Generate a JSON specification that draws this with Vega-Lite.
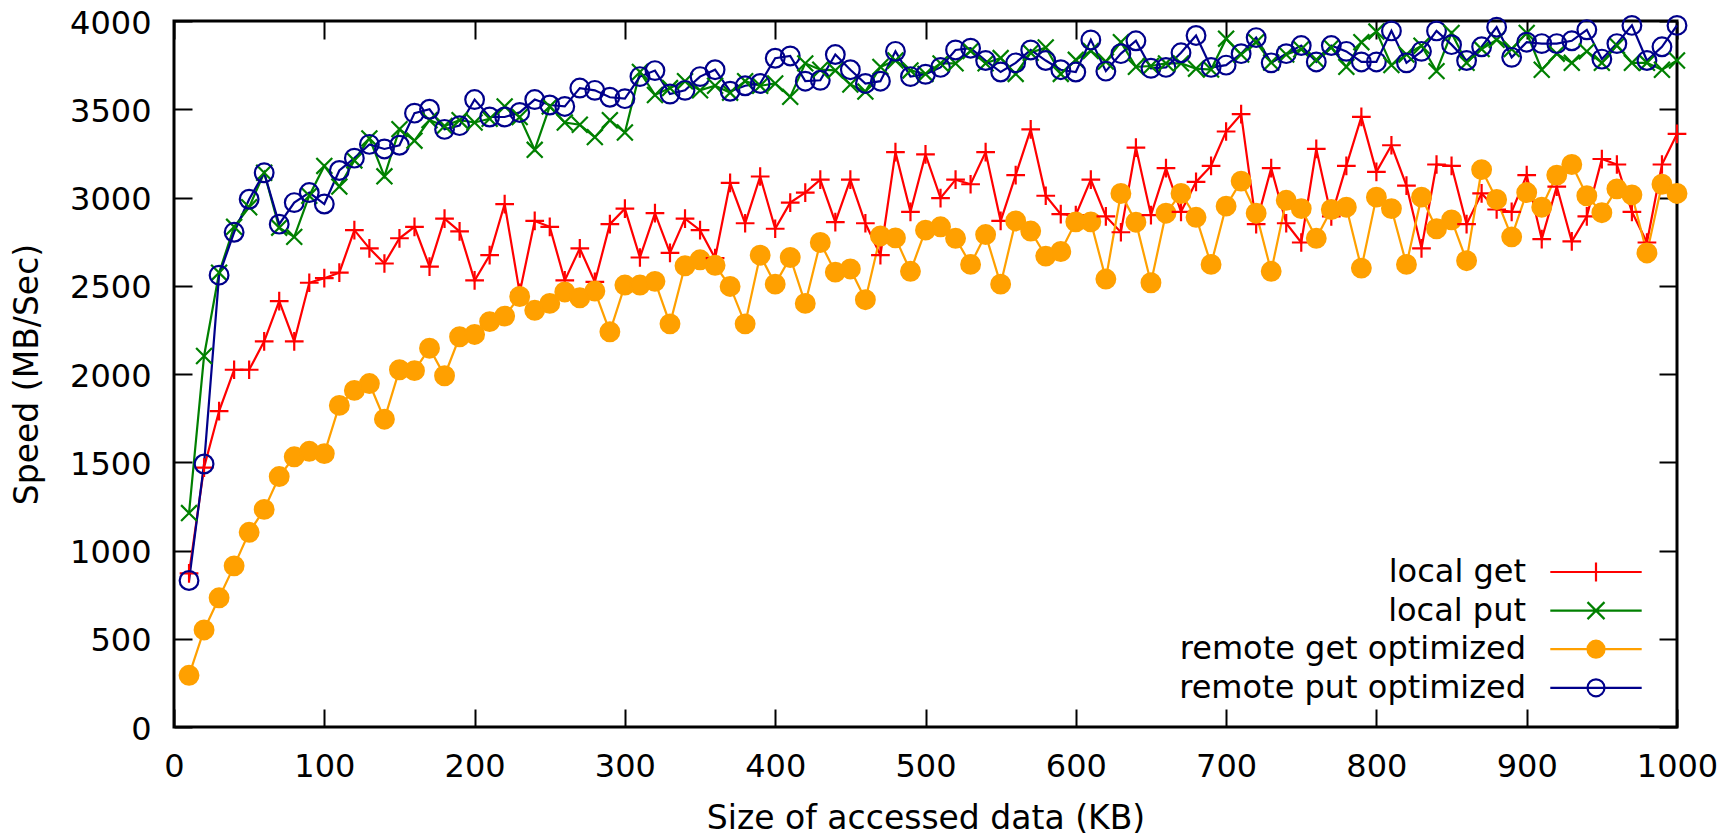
{
  "$schema": "https://vega.github.io/schema/vega-lite/v6.json",
  "width": 1503,
  "height": 706,
  "autosize": {"type": "none"},
  "padding": {"left": 174, "top": 21, "right": 56, "bottom": 112},
  "background": "white",
  "config": {
    "font": "DejaVu Sans",
    "view": {"stroke": "black", "strokeWidth": 3},
    "axis": {
      "domain": false, "grid": false, "zindex": 1, "labelFlush": false, "ticks": true,
      "labelFontSize": 32, "titleFontSize": 33, "titleFontWeight": "normal",
      "labelColor": "black", "titleColor": "black", "tickColor": "black",
      "tickWidth": 2, "tickSize": 18, "offset": -18, "labelFont": "DejaVu Sans", "titleFont": "DejaVu Sans",
      "format": "d"
    }
  },
  "data": {"values": [
    {"size": 10, "local get": 870, "local put": 1212, "remote get optimized": 293, "remote put optimized": 830},
    {"size": 20, "local get": 1470, "local put": 2102, "remote get optimized": 550, "remote put optimized": 1490},
    {"size": 30, "local get": 1790, "local put": 2574, "remote get optimized": 732, "remote put optimized": 2560},
    {"size": 40, "local get": 2024, "local put": 2834, "remote get optimized": 913, "remote put optimized": 2803},
    {"size": 50, "local get": 2024, "local put": 2945, "remote get optimized": 1103, "remote put optimized": 2990},
    {"size": 60, "local get": 2185, "local put": 3140, "remote get optimized": 1233, "remote put optimized": 3140},
    {"size": 70, "local get": 2413, "local put": 2829, "remote get optimized": 1419, "remote put optimized": 2849},
    {"size": 80, "local get": 2185, "local put": 2777, "remote get optimized": 1531, "remote put optimized": 2971},
    {"size": 90, "local get": 2517, "local put": 3010, "remote get optimized": 1562, "remote put optimized": 3028},
    {"size": 100, "local get": 2543, "local put": 3179, "remote get optimized": 1549, "remote put optimized": 2963},
    {"size": 110, "local get": 2574, "local put": 3062, "remote get optimized": 1822, "remote put optimized": 3153},
    {"size": 120, "local get": 2815, "local put": 3210, "remote get optimized": 1907, "remote put optimized": 3223},
    {"size": 130, "local get": 2712, "local put": 3335, "remote get optimized": 1946, "remote put optimized": 3301},
    {"size": 140, "local get": 2626, "local put": 3120, "remote get optimized": 1744, "remote put optimized": 3275},
    {"size": 150, "local get": 2769, "local put": 3387, "remote get optimized": 2024, "remote put optimized": 3296},
    {"size": 160, "local get": 2834, "local put": 3322, "remote get optimized": 2019, "remote put optimized": 3478},
    {"size": 170, "local get": 2608, "local put": 3438, "remote get optimized": 2146, "remote put optimized": 3500},
    {"size": 180, "local get": 2880, "local put": 3405, "remote get optimized": 1990, "remote put optimized": 3386},
    {"size": 190, "local get": 2808, "local put": 3438, "remote get optimized": 2211, "remote put optimized": 3407},
    {"size": 200, "local get": 2530, "local put": 3425, "remote get optimized": 2224, "remote put optimized": 3555},
    {"size": 210, "local get": 2673, "local put": 3446, "remote get optimized": 2297, "remote put optimized": 3456},
    {"size": 220, "local get": 2963, "local put": 3516, "remote get optimized": 2328, "remote put optimized": 3456},
    {"size": 230, "local get": 2460, "local put": 3456, "remote get optimized": 2439, "remote put optimized": 3482},
    {"size": 240, "local get": 2867, "local put": 3270, "remote get optimized": 2361, "remote put optimized": 3555},
    {"size": 250, "local get": 2834, "local put": 3516, "remote get optimized": 2400, "remote put optimized": 3524},
    {"size": 260, "local get": 2530, "local put": 3425, "remote get optimized": 2465, "remote put optimized": 3516},
    {"size": 270, "local get": 2712, "local put": 3412, "remote get optimized": 2432, "remote put optimized": 3620},
    {"size": 280, "local get": 2522, "local put": 3342, "remote get optimized": 2470, "remote put optimized": 3607},
    {"size": 290, "local get": 2849, "local put": 3438, "remote get optimized": 2239, "remote put optimized": 3568},
    {"size": 300, "local get": 2937, "local put": 3368, "remote get optimized": 2504, "remote put optimized": 3560},
    {"size": 310, "local get": 2660, "local put": 3711, "remote get optimized": 2504, "remote put optimized": 3685},
    {"size": 320, "local get": 2911, "local put": 3581, "remote get optimized": 2525, "remote put optimized": 3719},
    {"size": 330, "local get": 2686, "local put": 3620, "remote get optimized": 2284, "remote put optimized": 3586},
    {"size": 340, "local get": 2880, "local put": 3659, "remote get optimized": 2613, "remote put optimized": 3607},
    {"size": 350, "local get": 2815, "local put": 3607, "remote get optimized": 2647, "remote put optimized": 3685},
    {"size": 360, "local get": 2656, "local put": 3633, "remote get optimized": 2616, "remote put optimized": 3724},
    {"size": 370, "local get": 3083, "local put": 3594, "remote get optimized": 2496, "remote put optimized": 3602},
    {"size": 380, "local get": 2854, "local put": 3659, "remote get optimized": 2284, "remote put optimized": 3633},
    {"size": 390, "local get": 3119, "local put": 3633, "remote get optimized": 2673, "remote put optimized": 3646},
    {"size": 400, "local get": 2823, "local put": 3646, "remote get optimized": 2509, "remote put optimized": 3789},
    {"size": 410, "local get": 2971, "local put": 3570, "remote get optimized": 2660, "remote put optimized": 3802},
    {"size": 420, "local get": 3028, "local put": 3760, "remote get optimized": 2400, "remote put optimized": 3659},
    {"size": 430, "local get": 3101, "local put": 3724, "remote get optimized": 2745, "remote put optimized": 3664},
    {"size": 440, "local get": 2860, "local put": 3720, "remote get optimized": 2577, "remote put optimized": 3810},
    {"size": 450, "local get": 3101, "local put": 3640, "remote get optimized": 2595, "remote put optimized": 3724},
    {"size": 460, "local get": 2854, "local put": 3600, "remote get optimized": 2421, "remote put optimized": 3646},
    {"size": 470, "local get": 2673, "local put": 3740, "remote get optimized": 2782, "remote put optimized": 3659},
    {"size": 480, "local get": 3257, "local put": 3776, "remote get optimized": 2771, "remote put optimized": 3828},
    {"size": 490, "local get": 2919, "local put": 3720, "remote get optimized": 2582, "remote put optimized": 3685},
    {"size": 500, "local get": 3244, "local put": 3700, "remote get optimized": 2815, "remote put optimized": 3698},
    {"size": 510, "local get": 2997, "local put": 3760, "remote get optimized": 2834, "remote put optimized": 3737},
    {"size": 520, "local get": 3101, "local put": 3760, "remote get optimized": 2769, "remote put optimized": 3836},
    {"size": 530, "local get": 3075, "local put": 3830, "remote get optimized": 2621, "remote put optimized": 3846},
    {"size": 540, "local get": 3257, "local put": 3760, "remote get optimized": 2790, "remote put optimized": 3776},
    {"size": 550, "local get": 2867, "local put": 3790, "remote get optimized": 2509, "remote put optimized": 3711},
    {"size": 560, "local get": 3127, "local put": 3700, "remote get optimized": 2867, "remote put optimized": 3763},
    {"size": 570, "local get": 3386, "local put": 3820, "remote get optimized": 2810, "remote put optimized": 3836},
    {"size": 580, "local get": 3010, "local put": 3850, "remote get optimized": 2668, "remote put optimized": 3776},
    {"size": 590, "local get": 2906, "local put": 3700, "remote get optimized": 2694, "remote put optimized": 3724},
    {"size": 600, "local get": 2900, "local put": 3780, "remote get optimized": 2862, "remote put optimized": 3711},
    {"size": 610, "local get": 3101, "local put": 3830, "remote get optimized": 2862, "remote put optimized": 3893},
    {"size": 620, "local get": 2893, "local put": 3770, "remote get optimized": 2538, "remote put optimized": 3716},
    {"size": 630, "local get": 2803, "local put": 3880, "remote get optimized": 3023, "remote put optimized": 3815},
    {"size": 640, "local get": 3283, "local put": 3740, "remote get optimized": 2860, "remote put optimized": 3888},
    {"size": 650, "local get": 2900, "local put": 3745, "remote get optimized": 2517, "remote put optimized": 3732},
    {"size": 660, "local get": 3166, "local put": 3760, "remote get optimized": 2911, "remote put optimized": 3737},
    {"size": 670, "local get": 2919, "local put": 3760, "remote get optimized": 3023, "remote put optimized": 3820},
    {"size": 680, "local get": 3088, "local put": 3730, "remote get optimized": 2888, "remote put optimized": 3918},
    {"size": 690, "local get": 3179, "local put": 3725, "remote get optimized": 2621, "remote put optimized": 3737},
    {"size": 700, "local get": 3374, "local put": 3900, "remote get optimized": 2951, "remote put optimized": 3750},
    {"size": 710, "local get": 3472, "local put": 3810, "remote get optimized": 3093, "remote put optimized": 3815},
    {"size": 720, "local get": 2849, "local put": 3880, "remote get optimized": 2911, "remote put optimized": 3906},
    {"size": 730, "local get": 3166, "local put": 3765, "remote get optimized": 2582, "remote put optimized": 3763},
    {"size": 740, "local get": 2854, "local put": 3810, "remote get optimized": 2984, "remote put optimized": 3815},
    {"size": 750, "local get": 2745, "local put": 3840, "remote get optimized": 2937, "remote put optimized": 3861},
    {"size": 760, "local get": 3275, "local put": 3780, "remote get optimized": 2769, "remote put optimized": 3768},
    {"size": 770, "local get": 2893, "local put": 3850, "remote get optimized": 2932, "remote put optimized": 3861},
    {"size": 780, "local get": 3179, "local put": 3740, "remote get optimized": 2945, "remote put optimized": 3828},
    {"size": 790, "local get": 3457, "local put": 3880, "remote get optimized": 2600, "remote put optimized": 3768},
    {"size": 800, "local get": 3145, "local put": 3940, "remote get optimized": 3002, "remote put optimized": 3768},
    {"size": 810, "local get": 3296, "local put": 3750, "remote get optimized": 2937, "remote put optimized": 3944},
    {"size": 820, "local get": 3067, "local put": 3810, "remote get optimized": 2621, "remote put optimized": 3763},
    {"size": 830, "local get": 2712, "local put": 3860, "remote get optimized": 3002, "remote put optimized": 3828},
    {"size": 840, "local get": 3187, "local put": 3716, "remote get optimized": 2823, "remote put optimized": 3944},
    {"size": 850, "local get": 3179, "local put": 3932, "remote get optimized": 2873, "remote put optimized": 3866},
    {"size": 860, "local get": 2849, "local put": 3763, "remote get optimized": 2642, "remote put optimized": 3776},
    {"size": 870, "local get": 3023, "local put": 3841, "remote get optimized": 3158, "remote put optimized": 3854},
    {"size": 880, "local get": 2932, "local put": 3893, "remote get optimized": 2989, "remote put optimized": 3965},
    {"size": 890, "local get": 2919, "local put": 3841, "remote get optimized": 2777, "remote put optimized": 3794},
    {"size": 900, "local get": 3127, "local put": 3932, "remote get optimized": 3028, "remote put optimized": 3880},
    {"size": 910, "local get": 2764, "local put": 3724, "remote get optimized": 2945, "remote put optimized": 3872},
    {"size": 920, "local get": 3062, "local put": 3815, "remote get optimized": 3127, "remote put optimized": 3872},
    {"size": 930, "local get": 2751, "local put": 3763, "remote get optimized": 3187, "remote put optimized": 3888},
    {"size": 940, "local get": 2893, "local put": 3828, "remote get optimized": 3010, "remote put optimized": 3950},
    {"size": 950, "local get": 3218, "local put": 3763, "remote get optimized": 2914, "remote put optimized": 3784},
    {"size": 960, "local get": 3187, "local put": 3861, "remote get optimized": 3049, "remote put optimized": 3872},
    {"size": 970, "local get": 2919, "local put": 3763, "remote get optimized": 3015, "remote put optimized": 3975},
    {"size": 980, "local get": 2745, "local put": 3763, "remote get optimized": 2686, "remote put optimized": 3776},
    {"size": 990, "local get": 3187, "local put": 3724, "remote get optimized": 3075, "remote put optimized": 3854},
    {"size": 1000, "local get": 3360, "local put": 3776, "remote get optimized": 3023, "remote put optimized": 3975}
  ]},
  "transform": [
    {"fold": ["local get", "local put", "remote get optimized", "remote put optimized"], "as": ["series", "speed"]}
  ],
  "resolve": {
    "axis": {"x": "independent", "y": "independent"},
    "scale": {"color": "independent", "shape": "independent", "fill": "independent"},
    "legend": {"color": "independent", "shape": "independent", "fill": "independent"}
  },
  "layer": [
    {
      "mark": {"type": "line", "strokeWidth": 2.2},
      "encoding": {
        "x": {"field": "size", "type": "quantitative", "scale": {"domain": [0, 1000], "nice": false, "zero": false},
              "axis": {"orient": "bottom", "values": [0,100,200,300,400,500,600,700,800,900,1000], "title": "Size of accessed data (KB)", "labelBaseline": "top", "labelPadding": 24, "titlePadding": 20}},
        "y": {"field": "speed", "type": "quantitative", "scale": {"domain": [0, 4000], "nice": false, "zero": false},
              "axis": {"orient": "left", "values": [0,500,1000,1500,2000,2500,3000,3500,4000], "title": "Speed (MB/Sec)", "labelBaseline": "middle", "labelAlign": "right", "labelPadding": 23, "labelOffset": 2, "titlePadding": 25}},
        "color": {"field": "series", "type": "nominal",
                  "scale": {"domain": ["local get", "local put", "remote get optimized", "remote put optimized"], "range": ["#ff0000", "#008000", "#ffa000", "#00008b"]},
                  "legend": null}
      }
    },
    {
      "mark": {"type": "point", "filled": false, "size": 350, "strokeWidth": 2.2, "opacity": 1},
      "encoding": {
        "x": {"field": "size", "type": "quantitative", "scale": {"domain": [0, 1000], "nice": false, "zero": false}, "axis": null},
        "y": {"field": "speed", "type": "quantitative", "scale": {"domain": [0, 4000], "nice": false, "zero": false}, "axis": null},
        "color": {"field": "series", "type": "nominal",
                  "scale": {"domain": ["local get", "local put", "remote get optimized", "remote put optimized"], "range": ["#ff0000", "#008000", "#ffa000", "#00008b"]},
                  "legend": null},
        "shape": {"field": "series", "type": "nominal",
                  "scale": {"domain": ["local get", "local put", "remote get optimized", "remote put optimized"], "range": ["M-1,0H1M0,-1V1", "M-0.85,-0.85L0.85,0.85M-0.85,0.85L0.85,-0.85", "circle", "circle"]},
                  "legend": null},
        "fill": {"condition": {"test": "datum.series === 'remote get optimized'", "value": "#ffa000"}, "value": "transparent"}
      }
    },
    {
      "mark": {"type": "line", "opacity": 0},
      "encoding": {
        "x": {"field": "size", "type": "quantitative", "scale": {"domain": [0, 1000], "nice": false, "zero": false},
              "axis": {"orient": "top", "values": [0,100,200,300,400,500,600,700,800,900,1000], "labels": false, "title": null}},
        "y": {"field": "speed", "type": "quantitative", "scale": {"domain": [0, 4000], "nice": false, "zero": false},
              "axis": {"orient": "right", "values": [0,500,1000,1500,2000,2500,3000,3500,4000], "labels": false, "title": null}},
        "detail": {"field": "series"}
      }
    },
    {
      "transform": [{"filter": "datum.size < 0"}],
      "mark": {"type": "point", "filled": false, "opacity": 1, "strokeWidth": 2.2},
      "encoding": {
        "color": {"field": "series", "type": "nominal",
                  "scale": {"domain": ["local get", "local put", "remote get optimized", "remote put optimized"], "range": ["#ff0000", "#008000", "#ffa000", "#00008b"]},
                  "legend": {"orient": "none", "legendX": 1406, "legendY": 535, "title": null, "padding": 0,
                             "labelFontSize": 32, "labelFont": "DejaVu Sans", "labelColor": "black", "labelAlign": "right", "labelOffset": -86, "labelLimit": 600,
                             "symbolSize": 400, "symbolStrokeWidth": 2.2, "symbolOpacity": 1, "rowPadding": 6.6}},
        "shape": {"field": "series", "type": "nominal",
                  "scale": {"domain": ["local get", "local put", "remote get optimized", "remote put optimized"],
                            "range": ["M-4.57,0H4.57M0,-0.95V0.95", "M-4.57,0H4.57M-0.85,-0.85L0.85,0.85M-0.85,0.85L0.85,-0.85", "M-4.57,0H4.57M0.85,0A0.85,0.85,0,1,1,-0.85,0A0.85,0.85,0,1,1,0.85,0Z", "M-4.57,0H4.57M0.85,0A0.85,0.85,0,1,1,-0.85,0A0.85,0.85,0,1,1,0.85,0Z"]},
                  "legend": {"orient": "none", "legendX": 1406, "legendY": 535, "title": null, "padding": 0,
                             "labelFontSize": 32, "labelFont": "DejaVu Sans", "labelColor": "black", "labelAlign": "right", "labelOffset": -86, "labelLimit": 600,
                             "symbolSize": 400, "symbolStrokeWidth": 2.2, "symbolOpacity": 1, "rowPadding": 6.6}},
        "fill": {"field": "series", "type": "nominal",
                 "scale": {"domain": ["local get", "local put", "remote get optimized", "remote put optimized"], "range": ["transparent", "transparent", "#ffa000", "transparent"]},
                 "legend": {"orient": "none", "legendX": 1406, "legendY": 535, "title": null, "padding": 0,
                             "labelFontSize": 32, "labelFont": "DejaVu Sans", "labelColor": "black", "labelAlign": "right", "labelOffset": -86, "labelLimit": 600,
                             "symbolSize": 400, "symbolStrokeWidth": 2.2, "symbolOpacity": 1, "rowPadding": 6.6}}
      }
    }
  ]
}
